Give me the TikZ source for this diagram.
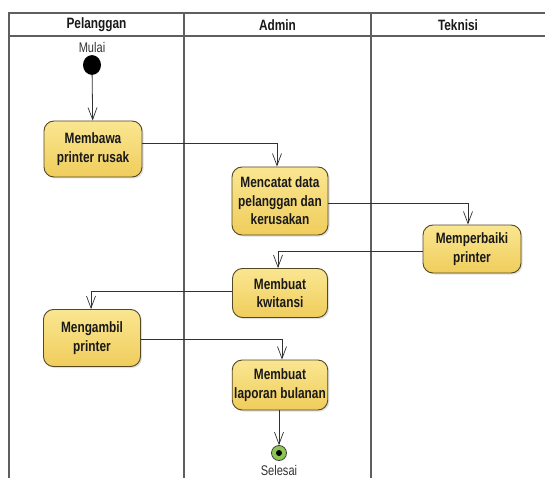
\documentclass[tikz,border=0pt]{standalone}
\usepackage{fontspec}
\setmainfont{Liberation Sans}
\newfontfamily\narrowfont{Liberation Sans}[FakeStretch=0.79]
\usetikzlibrary{arrows.meta,shadows}

\definecolor{acttop}{RGB}{250,230,145}
\definecolor{actbot}{RGB}{240,205,92}
\definecolor{actline}{RGB}{85,72,35}
\definecolor{laneline}{RGB}{95,95,95}
\definecolor{flowline}{RGB}{50,50,50}
\definecolor{endgreen}{RGB}{140,200,80}

\tikzset{
  activity/.style={draw=actline, line width=0.9pt, rounded corners=10pt,
    top color=acttop, bottom color=actbot, align=center,
    font=\narrowfont\bfseries\fontsize{15}{18.5}\selectfont, text=black!90,
    inner sep=2pt,
    drop shadow={opacity=0.25, shadow xshift=1.5pt, shadow yshift=-1.5pt}},
  lanehead/.style={font=\narrowfont\bfseries\fontsize{15}{17}\selectfont, text=black!90},
  flow/.style={draw=flowline, line width=0.8pt,
    -{Straight Barb[length=12pt,width=9pt,line width=0.7pt]}},
  lane/.style={draw=laneline, line width=1.4pt},
  caption/.style={font=\narrowfont\fontsize{14}{16}\selectfont, text=black!80}
}

\begin{document}
\begin{tikzpicture}[x=1pt,y=-1pt]
  \useasboundingbox (0,0) rectangle (545,478);
  \fill[white] (0,0) rectangle (545,478);

  % swimlane frame
  \draw[lane] (545,13) -- (9,13) -- (9,478);
  \draw[lane] (9,36) -- (545,36);
  \draw[lane] (184,13) -- (184,478);
  \draw[lane] (371,13) -- (371,478);

  \node[lanehead] (hp) at (96.5,25) {Pelanggan};
  \node[lanehead] (ha) at (277.5,25) {Admin};
  \node[lanehead] (ht) at (458,25) {Teknisi};

  % start
  \node[caption] (mulai) at (92,47) {Mulai};
  \node[circle, fill=black, minimum width=16pt, minimum height=18pt, inner sep=0pt,
        yscale=1.1] (start) at (92,65) {};

  % activities
  \node[activity, minimum width=98pt, minimum height=56pt] (bawa) at (93,149)
    {Membawa\\printer rusak};
  \node[activity, minimum width=96pt, minimum height=68pt] (catat) at (280,201)
    {Mencatat data\\pelanggan dan\\kerusakan};
  \node[activity, minimum width=98pt, minimum height=48pt] (baiki) at (472,249)
    {Memperbaiki\\printer};
  \node[activity, minimum width=95pt, minimum height=49pt] (kwit) at (280,293)
    {Membuat\\kwitansi};
  \node[activity, minimum width=97pt, minimum height=57pt] (ambil) at (92,338)
    {Mengambil\\printer};
  \node[activity, minimum width=95pt, minimum height=50pt] (lapor) at (280,385)
    {Membuat\\laporan bulanan};

  % end
  \node[circle, draw=black!75, line width=0.8pt, fill=endgreen, minimum size=15pt,
        inner sep=0pt] (stop) at (279,453) {};
  \node[circle, fill=black, minimum size=6pt, inner sep=0pt] (stopdot) at (stop.center) {};
  \node[caption, inner sep=0pt, anchor=north] (selesai) at (279,465) {Selesai};

  % flows
  \draw[flow] (start) -- (bawa);
  \draw[flow] ([yshift=6pt]bawa.east) -| ([xshift=-3pt]catat.north);
  \draw[flow] ([yshift=-2pt]catat.east) -| ([xshift=-4pt]baiki.north);
  \draw[flow] ([yshift=-2pt]baiki.west) -| ([xshift=-2pt]kwit.north);
  \draw[flow] ([yshift=2pt]kwit.west) -| ([xshift=-1pt]ambil.north);
  \draw[flow] ([yshift=-1pt]ambil.east) -| ([xshift=2pt]lapor.north);
  \draw[flow] ([xshift=-1pt]lapor.south) -- (stop);
\end{tikzpicture}
\end{document}
